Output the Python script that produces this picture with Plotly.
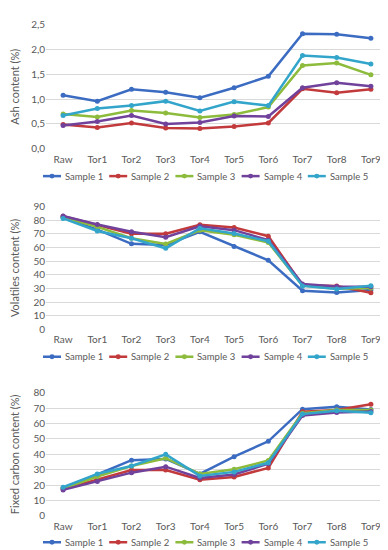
import plotly.graph_objects as go

categories = ["Raw", "Tor1", "Tor2", "Tor3", "Tor4", "Tor5", "Tor6", "Tor7", "Tor8", "Tor9"]
series_names = ["Sample 1", "Sample 2", "Sample 3", "Sample 4", "Sample 5"]

ash_s1 = [1.08, 0.96, 1.20, 1.14, 1.03, 1.23, 1.46, 2.32, 2.31, 2.23]
ash_s2 = [0.49, 0.43, 0.52, 0.42, 0.41, 0.45, 0.52, 1.21, 1.13, 1.20]
ash_s3 = [0.70, 0.64, 0.77, 0.72, 0.63, 0.69, 0.84, 1.68, 1.73, 1.49]
ash_s4 = [0.47, 0.55, 0.67, 0.50, 0.53, 0.66, 0.65, 1.23, 1.33, 1.26]
ash_s5 = [0.67, 0.81, 0.87, 0.96, 0.76, 0.95, 0.87, 1.88, 1.84, 1.71]

vol_s1 = [82.0, 73.0, 62.6, 61.7, 71.4, 60.7, 50.5, 28.3, 27.0, 28.8]
vol_s2 = [82.8, 76.4, 70.0, 70.0, 76.5, 74.5, 68.2, 32.3, 31.7, 26.8]
vol_s3 = [82.0, 75.0, 66.7, 62.5, 72.5, 69.3, 63.6, 32.1, 29.8, 30.3]
vol_s4 = [83.0, 76.8, 71.5, 67.5, 75.5, 72.6, 65.3, 33.2, 31.4, 31.2]
vol_s5 = [81.2, 72.0, 66.7, 59.3, 74.0, 70.2, 64.5, 31.8, 29.5, 32.0]

fc_s1 = [18.2, 26.9, 36.2, 37.0, 27.3, 38.5, 48.5, 69.4, 71.0, 69.2]
fc_s2 = [17.4, 23.5, 29.8, 29.8, 23.5, 25.3, 31.2, 67.7, 68.8, 72.6]
fc_s3 = [17.8, 25.6, 32.4, 37.5, 27.3, 30.3, 36.0, 66.7, 68.8, 68.8]
fc_s4 = [16.9, 22.4, 28.1, 32.0, 24.6, 26.9, 33.9, 65.2, 67.3, 67.9]
fc_s5 = [18.6, 27.3, 32.4, 40.0, 26.0, 28.6, 34.5, 66.2, 68.4, 67.1]

ash_ticks = [0, 0.5, 1.0, 1.5, 2.0, 2.5]
ash_ticklabels = ["0,0", "0,5", "1,0", "1,5", "2,0", "2,5"]
vol_ticks = [0, 10, 20, 30, 40, 50, 60, 70, 80, 90]
fc_ticks = [0, 10, 20, 30, 40, 50, 60, 70, 80]

colors = ["#3B6CC2", "#C23A3B", "#8DBB3C", "#70429C", "#33A5CB"]
text_color = "#595959"
grid_color = "#D9D9D9"
FONT = "Lato, Liberation Sans"

W, H = 388, 550
def py(px_from_top):
    return 1 - px_from_top / H
def px(px_from_left):
    return px_from_left / W

panels = [
    dict(data=[ash_s1, ash_s2, ash_s3, ash_s4, ash_s5], title="Ash content (%)",
         ticks=ash_ticks, labels=ash_ticklabels, rng=[0, 2.5], top=10, bottom=137, legend_y=165, standoff=9),
    dict(data=[vol_s1, vol_s2, vol_s3, vol_s4, vol_s5], title="Volatiles content (%)",
         ticks=vol_ticks, labels=[str(t) for t in vol_ticks], rng=[0, 90], top=196, bottom=322, legend_y=350, standoff=13),
    dict(data=[fc_s1, fc_s2, fc_s3, fc_s4, fc_s5], title="Fixed carbon content (%)",
         ticks=fc_ticks, labels=[str(t) for t in fc_ticks], rng=[0, 80], top=387, bottom=513, legend_y=540, standoff=13),
]

fig = go.Figure()
layout = dict(
    width=W, height=H, margin=dict(l=0, r=0, t=0, b=0),
    paper_bgcolor="white", plot_bgcolor="white",
    font=dict(family=FONT, size=10, color=text_color),
    showlegend=False,
)
shapes, annotations = [], []
x0, x1 = 38 / W, 380 / W
leg_start, leg_step, leg_line = 35, 66.2, 18
for i, p in enumerate(panels):
    n = i + 1
    xa = "x" if n == 1 else f"x{n}"
    ya = "y" if n == 1 else f"y{n}"
    for j, vals in enumerate(p["data"]):
        fig.add_trace(go.Scatter(
            x=categories, y=vals, name=series_names[j], mode="lines+markers",
            line=dict(color=colors[j], width=2.5),
            marker=dict(color=colors[j], size=5),
            xaxis=xa, yaxis=ya, cliponaxis=False,
        ))
        # manual legend entry
        lx = leg_start + j * leg_step
        ly = p["legend_y"]
        shapes.append(dict(type="line", xref="paper", yref="paper",
                           x0=px(lx), x1=px(lx + leg_line), y0=py(ly), y1=py(ly),
                           line=dict(color=colors[j], width=2.5)))
        cx = lx + leg_line / 2
        shapes.append(dict(type="circle", xref="paper", yref="paper",
                           x0=px(cx - 2.5), x1=px(cx + 2.5), y0=py(ly + 2.5), y1=py(ly - 2.5),
                           fillcolor=colors[j], line=dict(color=colors[j], width=0)))
        annotations.append(dict(text=series_names[j], xref="paper", yref="paper",
                                x=px(lx + leg_line + 2), y=py(ly), xanchor="left", yanchor="middle",
                                showarrow=False, font=dict(family=FONT, size=9.5, color=text_color)))
    xkey = "xaxis" if n == 1 else f"xaxis{n}"
    ykey = "yaxis" if n == 1 else f"yaxis{n}"
    layout[xkey] = dict(
        domain=[x0, x1], anchor=ya, type="category", range=[-0.5, 9.5],
        showgrid=False, showline=False, zeroline=False, ticks="",
        tickfont=dict(family=FONT, size=10, color=text_color), ticklabelstandoff=3,
    )
    layout[ykey] = dict(
        domain=[py(p["bottom"]), py(p["top"])], anchor=xa, range=p["rng"],
        tickvals=p["ticks"], ticktext=p["labels"],
        showgrid=True, gridcolor=grid_color, gridwidth=1, zeroline=False,
        showline=False, ticks="", tickfont=dict(family=FONT, size=10, color=text_color),
        title=dict(text=p["title"], font=dict(family=FONT, size=11, color=text_color), standoff=p["standoff"]),
    )
layout["shapes"] = shapes
layout["annotations"] = annotations
fig.update_layout(**layout)
fig.write_html("out.html")
